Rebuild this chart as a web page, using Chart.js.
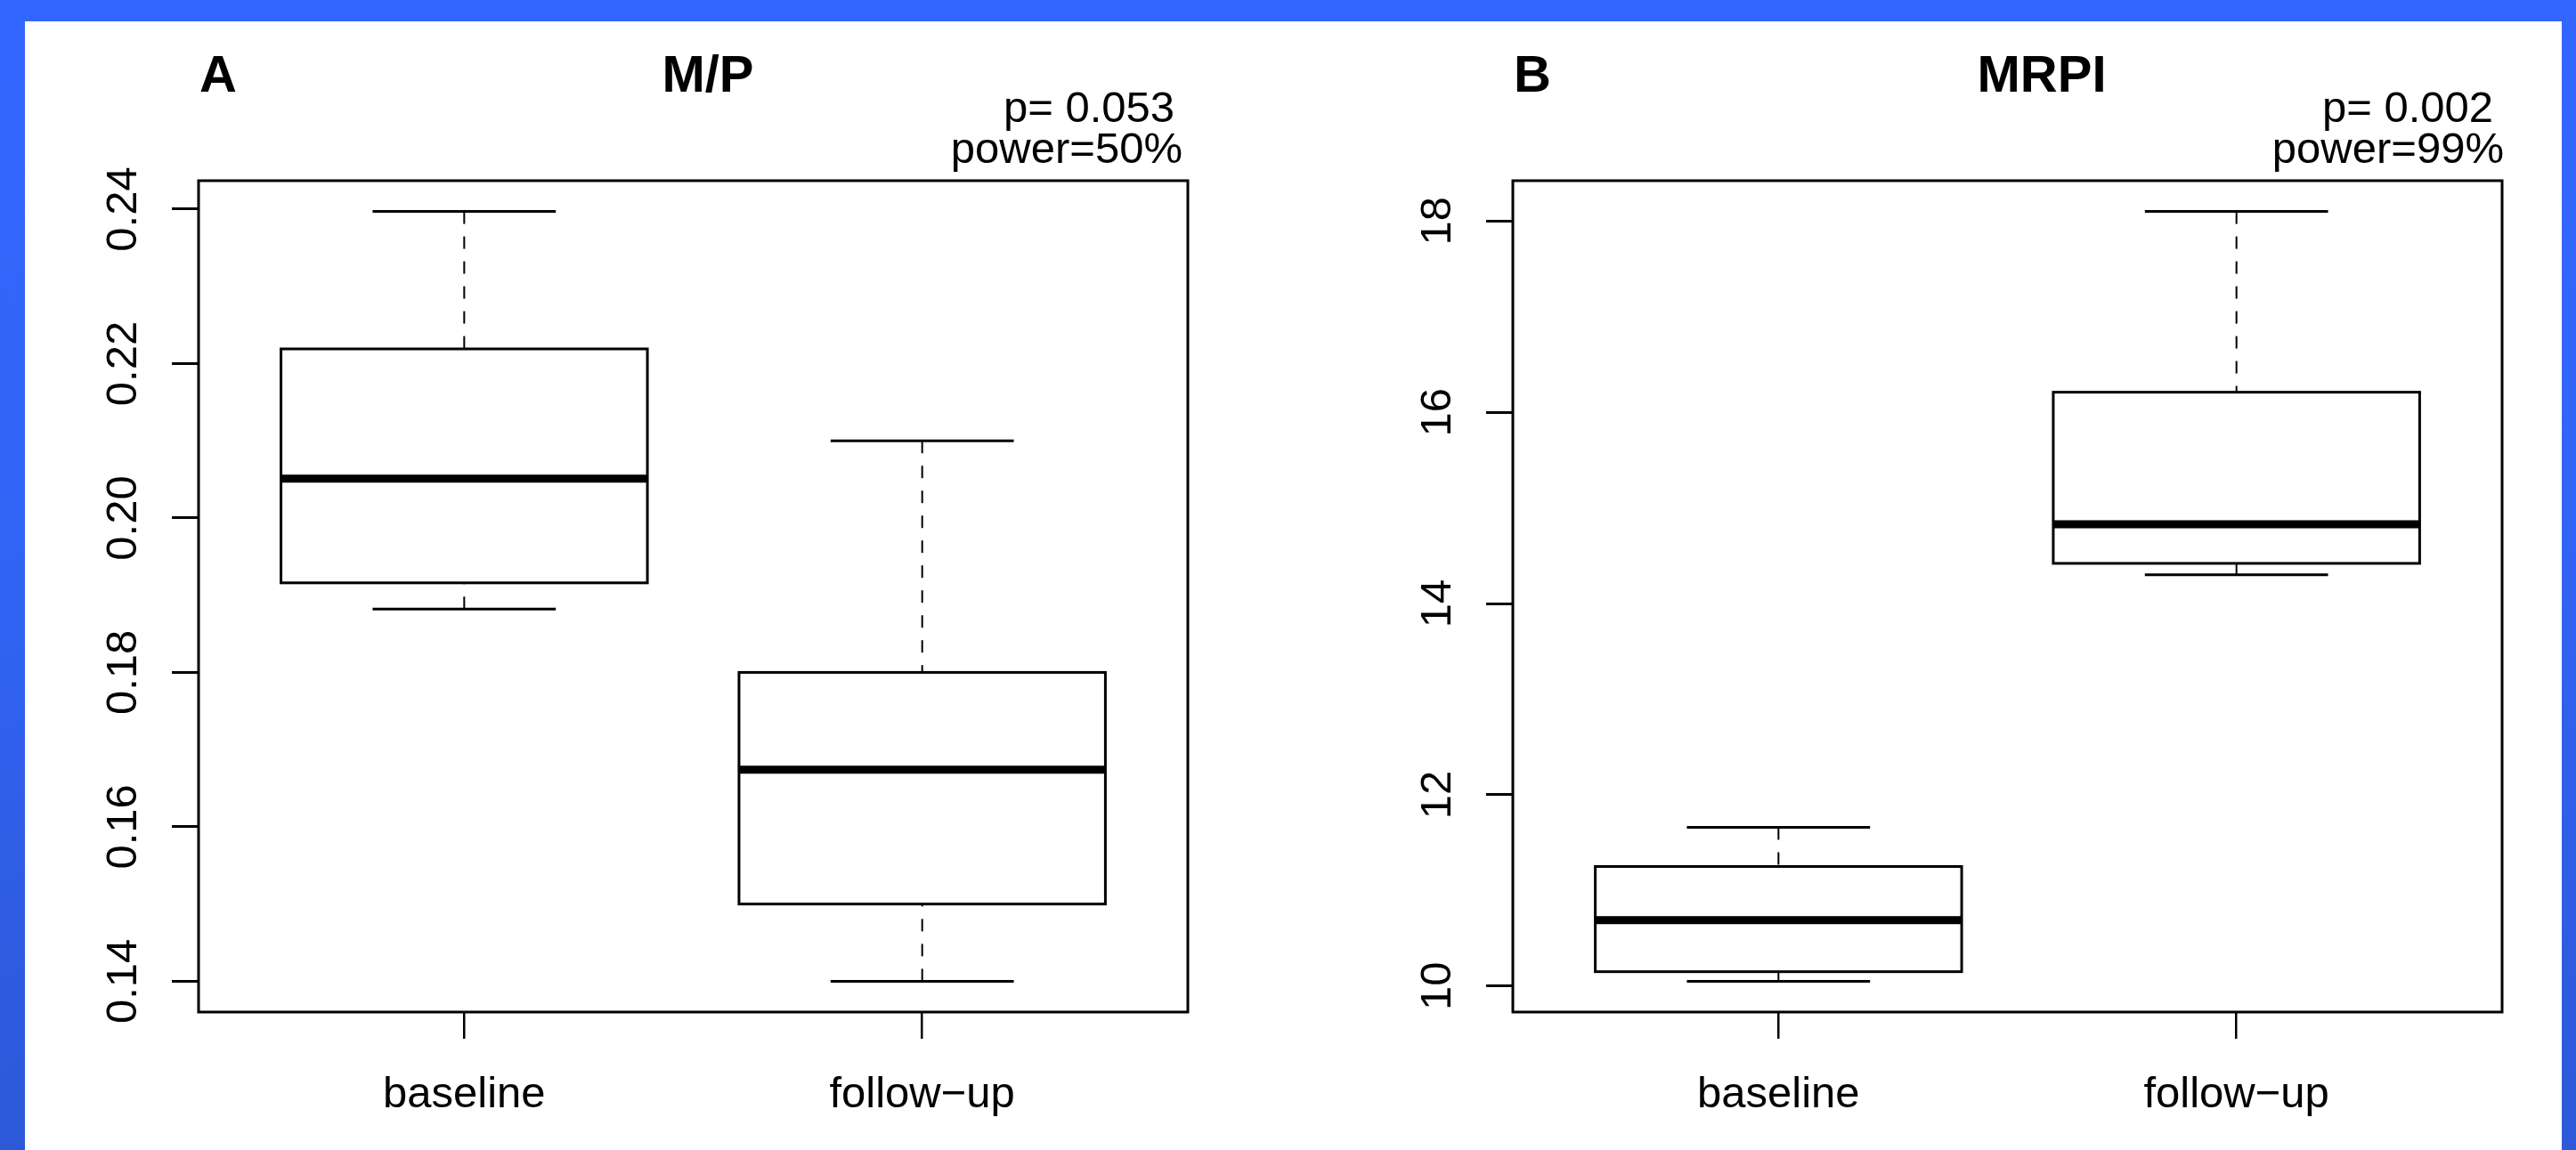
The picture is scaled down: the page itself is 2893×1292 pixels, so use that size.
<!DOCTYPE html>
<html>
<head>
<meta charset="utf-8">
<title>M/P and MRPI boxplots</title>
<script src="https://cdn.jsdelivr.net/npm/chart.js@4.4.1/dist/chart.umd.min.js"></script>
<style>
  html, body { margin: 0; padding: 0; }
  body {
    width: 2893px; height: 1292px; position: relative; overflow: hidden;
    background: linear-gradient(to bottom, #3366ff 0%, #3264f6 45%, #2c59d8 100%);
  }
  #sheet { position: absolute; left: 28px; top: 24px; width: 2849px; height: 1268px; background: #fff; }
  canvas { position: absolute; top: 0; }
  #chartA { left: 0; }
  #chartB { left: 1476px; }
</style>
</head>
<body>
<div id="sheet"></div>
<canvas id="chartA" width="1417" height="1292"></canvas>
<canvas id="chartB" width="1417" height="1292"></canvas>
<script>
const groups = ['baseline', 'follow\u2212up'];

// panel A - M/P
const mpMin    = [0.1882, 0.1400];
const mpQ1     = [0.1916, 0.1500];
const mpMedian = [0.2051, 0.1674];
const mpQ3     = [0.2219, 0.1800];
const mpMax    = [0.2397, 0.2100];
const mpTicks  = [0.14, 0.16, 0.18, 0.20, 0.22, 0.24];
const mpTickLabels = ['0.14', '0.16', '0.18', '0.20', '0.22', '0.24'];
const mpStats  = ['p= 0.053', 'power=50%'];

// panel B - MRPI
const mrpiMin    = [10.05, 14.30];
const mrpiQ1     = [10.15, 14.42];
const mrpiMedian = [10.69, 14.83];
const mrpiQ3     = [11.25, 16.21];
const mrpiMax    = [11.66, 18.10];
const mrpiTicks  = [10, 12, 14, 16, 18];
const mrpiTickLabels = ['10', '12', '14', '16', '18'];
const mrpiStats  = ['p= 0.002', 'power=99%'];

const FONT = '"Liberation Sans", Arial, Helvetica, sans-serif';

// draws the R style boxplot, frame and all the text
const rBoxplot = {
  id: 'rBoxplot',
  afterDraw(chart, args, p) {
    const ctx = chart.ctx;
    const area = chart.chartArea;
    const xs = chart.scales.x;
    const ys = chart.scales.y;

    ctx.save();
    ctx.strokeStyle = '#000';
    ctx.lineCap = 'butt';

    p.median.forEach((med, i) => {
      const x = xs.getPixelForValue(i + 1);
      const half = xs.getPixelForValue(i + 1.4) - x; // boxwex 0.8
      const cap = half / 2;
      const yMin = ys.getPixelForValue(p.min[i]);
      const yQ1 = ys.getPixelForValue(p.q1[i]);
      const yMed = ys.getPixelForValue(med);
      const yQ3 = ys.getPixelForValue(p.q3[i]);
      const yMax = ys.getPixelForValue(p.max[i]);

      // whiskers (dashed, from the end to the box)
      ctx.lineWidth = 2;
      ctx.setLineDash([14, 14]);
      ctx.beginPath(); ctx.moveTo(x, yMin); ctx.lineTo(x, yQ1); ctx.stroke();
      ctx.beginPath(); ctx.moveTo(x, yMax); ctx.lineTo(x, yQ3); ctx.stroke();
      ctx.setLineDash([]);

      // staples
      ctx.lineWidth = 3;
      ctx.beginPath();
      ctx.moveTo(x - cap, yMin); ctx.lineTo(x + cap, yMin);
      ctx.moveTo(x - cap, yMax); ctx.lineTo(x + cap, yMax);
      ctx.stroke();

      // box
      ctx.fillStyle = '#fff';
      ctx.fillRect(x - half, yQ3, half * 2, yQ1 - yQ3);
      ctx.strokeRect(x - half, yQ3, half * 2, yQ1 - yQ3);

      // median
      ctx.lineWidth = 9;
      ctx.beginPath(); ctx.moveTo(x - half, yMed); ctx.lineTo(x + half, yMed); ctx.stroke();
    });

    // frame round the plot region
    ctx.lineWidth = 3;
    ctx.strokeRect(area.left, area.top, area.right - area.left, area.bottom - area.top);

    ctx.fillStyle = '#000';

    // y tick labels, rotated like R's las=0
    ctx.font = '49px ' + FONT;
    ctx.textAlign = 'center';
    ctx.textBaseline = 'alphabetic';
    ys.ticks.forEach((t, i) => {
      ctx.save();
      ctx.translate(area.left - 70, ys.getPixelForValue(t.value));
      ctx.rotate(-Math.PI / 2);
      ctx.fillText(p.tickLabels[i], 0, 0);
      ctx.restore();
    });

    // x tick labels
    xs.ticks.forEach((t, i) => {
      ctx.fillText(groups[i], xs.getPixelForValue(t.value), 1244);
    });

    // p value and power, right aligned
    ctx.textAlign = 'right';
    ctx.fillText(p.stats[0], p.statsX[0], 137);
    ctx.fillText(p.stats[1], p.statsX[1], 183);

    // panel letter and title
    ctx.font = 'bold 58px ' + FONT;
    ctx.textAlign = 'left';
    ctx.fillText(p.letter, area.left + 1, 103);
    ctx.textAlign = 'center';
    ctx.fillText(p.title, p.titleX, 103);

    ctx.restore();
  }
};

function makePanel(canvasId, panel, ticks) {
  const lo = Math.min(...panel.min);
  const hi = Math.max(...panel.max);
  const pad = 0.04 * (hi - lo); // R's default axis extension

  return new Chart(document.getElementById(canvasId), {
    type: 'scatter',
    data: { datasets: [] },
    options: {
      responsive: false,
      animation: false,
      events: [],
      layout: { autoPadding: false, padding: { left: 193, top: 203, right: 83, bottom: 125 } },
      scales: {
        x: {
          type: 'linear',
          min: 0.42,
          max: groups.length + 0.58,
          afterBuildTicks: s => { s.ticks = groups.map((g, i) => ({ value: i + 1 })); },
          ticks: { display: false },
          border: { display: false },
          grid: { drawOnChartArea: false, drawTicks: true, tickLength: 30, color: '#000', lineWidth: 2.5 }
        },
        y: {
          type: 'linear',
          min: lo - pad,
          max: hi + pad,
          afterBuildTicks: s => { s.ticks = ticks.map(v => ({ value: v })); },
          ticks: { display: false },
          border: { display: false },
          grid: { drawOnChartArea: false, drawTicks: true, tickLength: 30, color: '#000', lineWidth: 3 }
        }
      },
      plugins: {
        legend: { display: false },
        tooltip: { enabled: false },
        rBoxplot: panel
      }
    },
    plugins: [rBoxplot]
  });
}

makePanel('chartA', {
  letter: 'A', title: 'M/P', titleX: 795,
  min: mpMin, q1: mpQ1, median: mpMedian, q3: mpQ3, max: mpMax,
  tickLabels: mpTickLabels, stats: mpStats, statsX: [1319, 1328]
}, mpTicks);

makePanel('chartB', {
  letter: 'B', title: 'MRPI', titleX: 817,
  min: mrpiMin, q1: mrpiQ1, median: mrpiMedian, q3: mrpiQ3, max: mrpiMax,
  tickLabels: mrpiTickLabels, stats: mrpiStats, statsX: [1324, 1336]
}, mrpiTicks);
</script>
</body>
</html>
